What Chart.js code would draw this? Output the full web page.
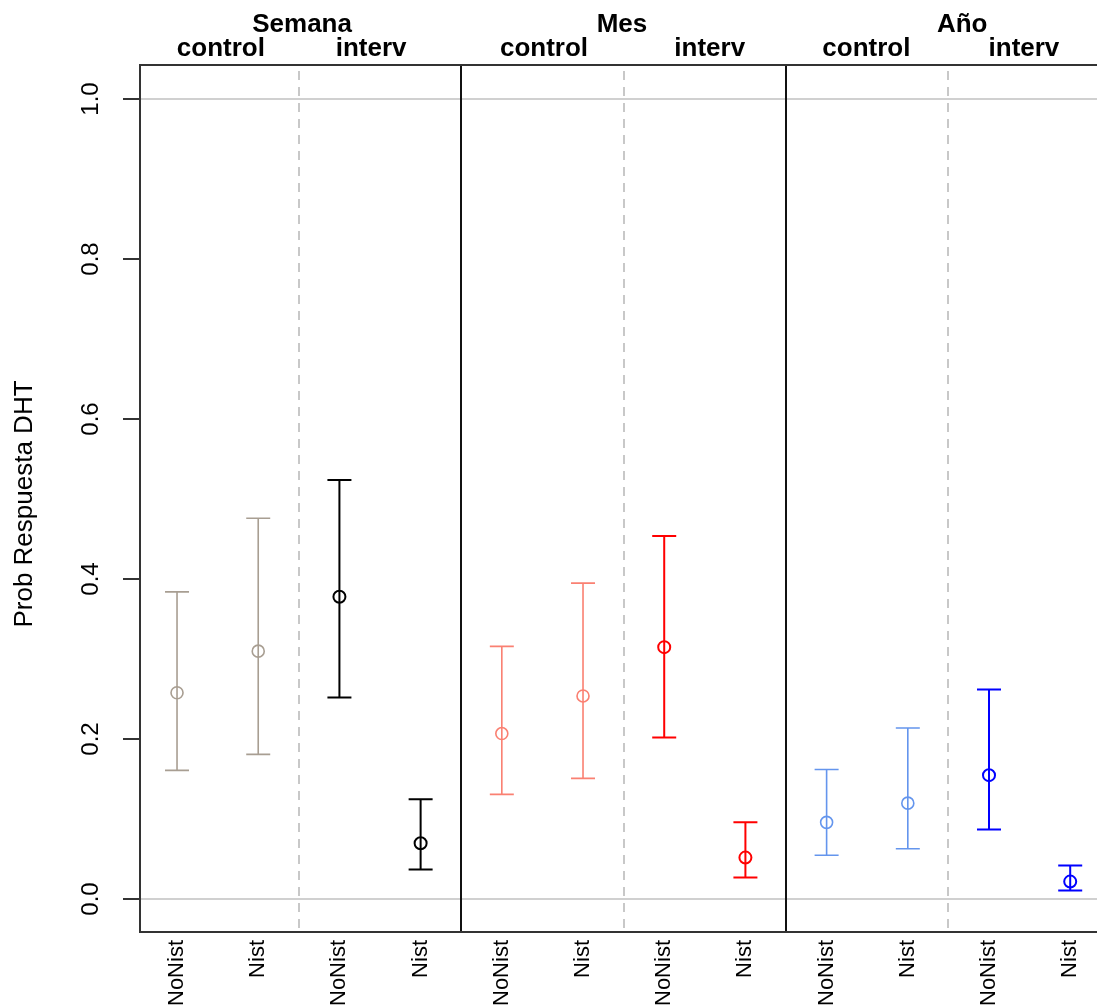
<!DOCTYPE html>
<html>
<head>
<meta charset="utf-8">
<script src="https://cdn.jsdelivr.net/npm/chart.js@4"></script>
<style>
  html, body { margin: 0; padding: 0; background: #fff; overflow: hidden; }
  canvas { display: block; }
</style>
</head>
<body>
<canvas id="chart" width="1097" height="1007"></canvas>
<script>
// categories
const periods = ["Semana", "Mes", "Año"];
const groups = ["control", "interv"];
const cats = ["NoNist", "Nist", "NoNist", "Nist", "NoNist", "Nist", "NoNist", "Nist", "NoNist", "Nist", "NoNist", "Nist"];

// estimates and intervals
const est = [0.258, 0.310, 0.378, 0.070, 0.207, 0.254, 0.315, 0.052, 0.096, 0.120, 0.155, 0.022];
const lower = [0.161, 0.181, 0.252, 0.037, 0.131, 0.151, 0.202, 0.027, 0.055, 0.063, 0.087, 0.011];
const upper = [0.384, 0.476, 0.524, 0.125, 0.316, 0.395, 0.454, 0.096, 0.162, 0.214, 0.262, 0.042];

const yTicks = [0, 0.2, 0.4, 0.6, 0.8, 1.0];

// style
const colors = ["#a89e92", "#a89e92", "#000000", "#000000",
  "#fa8072", "#fa8072", "#ff0000", "#ff0000",
  "#6495ed", "#6495ed", "#0000ff", "#0000ff"];
const widths = [1.6, 1.6, 2, 2, 1.6, 1.6, 2, 2, 1.6, 1.6, 2, 2];
// header label x positions (in category units)
const periodX = [2.54, 6.48, 10.67];
const groupX = [1.54, 3.39, 5.52, 7.56, 9.49, 11.43];

function $(id) {
  return document.getElementById(id);
}

const decor = {
  id: "decor",
  beforeDatasetsDraw(chart) {
    const { ctx, chartArea: a, scales: { x, y } } = chart;
    ctx.save();
    // reference lines at 0 and 1
    ctx.strokeStyle = "#d0d0d0";
    ctx.lineWidth = 2;
    [0, 1].forEach((v) => {
      const py = Math.round(y.getPixelForValue(v));
      ctx.beginPath();
      ctx.moveTo(a.left, py);
      ctx.lineTo(a.right, py);
      ctx.stroke();
    });
    // dashed separators between control/interv
    ctx.strokeStyle = "#c8c8c8";
    ctx.setLineDash([9, 7]);
    [2.5, 6.5, 10.5].forEach((v) => {
      const px = Math.round(x.getPixelForValue(v));
      ctx.beginPath();
      ctx.moveTo(px, a.top + 6);
      ctx.lineTo(px, a.bottom);
      ctx.stroke();
    });
    ctx.setLineDash([]);
    // solid separators between periods
    ctx.strokeStyle = "#111";
    [4.5, 8.5].forEach((v) => {
      const px = Math.round(x.getPixelForValue(v));
      ctx.beginPath();
      ctx.moveTo(px, a.top);
      ctx.lineTo(px, a.bottom);
      ctx.stroke();
    });
    // error bars
    est.forEach((m, i) => {
      const px = x.getPixelForValue(i + 1);
      const lo = y.getPixelForValue(lower[i]);
      const hi = y.getPixelForValue(upper[i]);
      ctx.strokeStyle = colors[i];
      ctx.lineWidth = widths[i];
      ctx.beginPath();
      ctx.moveTo(px, lo);
      ctx.lineTo(px, hi);
      ctx.moveTo(px - 12, lo);
      ctx.lineTo(px + 12, lo);
      ctx.moveTo(px - 12, hi);
      ctx.lineTo(px + 12, hi);
      ctx.stroke();
    });
    ctx.restore();
  },
  afterDraw(chart) {
    const { ctx, chartArea: a, scales: { x, y } } = chart;
    ctx.save();
    // frame (left, top, bottom)
    ctx.strokeStyle = "#333";
    ctx.lineWidth = 2;
    ctx.beginPath();
    ctx.moveTo(a.right + 2, a.top);
    ctx.lineTo(a.left, a.top);
    ctx.lineTo(a.left, a.bottom);
    ctx.lineTo(a.right + 2, a.bottom);
    ctx.stroke();
    // y ticks
    ctx.fillStyle = "#000";
    ctx.font = "24px 'Liberation Sans', Arial, sans-serif";
    ctx.textAlign = "center";
    ctx.textBaseline = "middle";
    yTicks.forEach((v) => {
      const py = Math.round(y.getPixelForValue(v));
      ctx.beginPath();
      ctx.moveTo(a.left - 17, py);
      ctx.lineTo(a.left, py);
      ctx.stroke();
      ctx.save();
      ctx.translate(91, py);
      ctx.rotate(-Math.PI / 2);
      ctx.fillText(v.toFixed(1), 0, 0);
      ctx.restore();
    });
    // y title
    ctx.save();
    ctx.translate(25, 504);
    ctx.rotate(-Math.PI / 2);
    ctx.font = "26px 'Liberation Sans', Arial, sans-serif";
    ctx.fillText("Prob Respuesta DHT", 0, 0);
    ctx.restore();
    // x category labels
    ctx.font = "22px 'Liberation Sans', Arial, sans-serif";
    ctx.textAlign = "right";
    cats.forEach((c, i) => {
      const px = x.getPixelForValue(i + 1);
      ctx.save();
      ctx.translate(px, a.bottom + 8);
      ctx.rotate(-Math.PI / 2);
      ctx.fillText(c, 0, 0);
      ctx.restore();
    });
    // headers
    ctx.textAlign = "center";
    ctx.font = "bold 26px 'Liberation Sans', Arial, sans-serif";
    periods.forEach((p, i) => {
      ctx.fillText(p, x.getPixelForValue(periodX[i]), 25);
    });
    groupX.forEach((gx, i) => {
      ctx.fillText(groups[i % 2], x.getPixelForValue(gx), 49);
    });
    ctx.restore();
  },
};

function onload() {
  new Chart($("chart"), {
    type: "scatter",
    data: {
      datasets: [
        {
          data: est.map((m, i) => ({ x: i + 1, y: m })),
          pointStyle: "circle",
          pointRadius: 6,
          pointHoverRadius: 6,
          pointBorderColor: colors,
          pointBorderWidth: widths,
          pointBackgroundColor: "rgba(0,0,0,0)",
          showLine: false,
        },
      ],
    },
    options: {
      responsive: false,
      animation: false,
      layout: { autoPadding: false, padding: { left: 140, top: 65, right: 0, bottom: 75 } },
      plugins: { legend: { display: false }, tooltip: { enabled: false } },
      scales: {
        x: { type: "linear", min: 0.544, max: 12.33, display: false },
        y: { type: "linear", min: -0.041, max: 1.0425, display: false },
      },
    },
    plugins: [decor],
  });
}
onload();
</script>
</body>
</html>
